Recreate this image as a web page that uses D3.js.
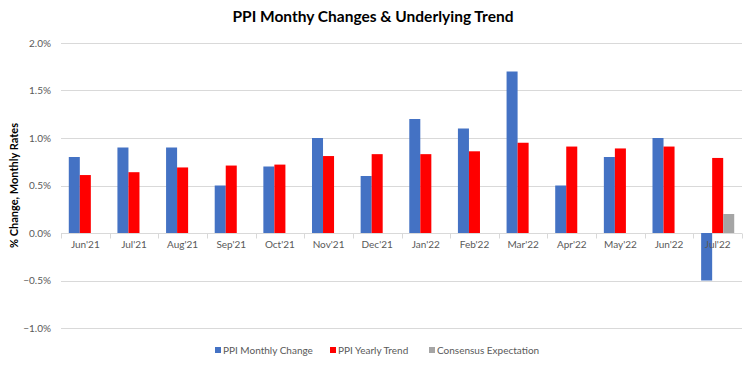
<!DOCTYPE html>
<html>
<head>
  <meta charset="utf-8">
  <script src="https://d3js.org/d3.v7.min.js"></script>
  <style>
    body { margin: 0; background: #fff; font-family: Lato, 'Open Sans', sans-serif; }
  </style>
</head>
<body>
  <div id="my_dataviz"></div>
  <script>
    // data
    var months = ["Jun'21", "Jul'21", "Aug'21", "Sep'21", "Oct'21", "Nov'21", "Dec'21",
                  "Jan'22", "Feb'22", "Mar'22", "Apr'22", "May'22", "Jun'22", "Jul'22"];
    var monthly = [0.8, 0.9, 0.9, 0.5, 0.7, 1.0, 0.6, 1.2, 1.1, 1.7, 0.5, 0.8, 1.0, -0.5];
    var yearly = [0.61, 0.64, 0.69, 0.71, 0.72, 0.81, 0.83, 0.83, 0.86, 0.95, 0.91, 0.89, 0.91, 0.79];
    var consensus = [null, null, null, null, null, null, null, null, null, null, null, null, null, 0.2];
    var seriesNames = ["PPI Monthly Change", "PPI Yearly Trend", "Consensus Expectation"];
    var colors = ["#4472C4", "#FF0000", "#A5A5A5"];
    var yTicks = [-1.0, -0.5, 0, 0.5, 1.0, 1.5, 2.0];

    var W = 750, H = 368;
    var margin = { top: 43, right: 8, bottom: 40, left: 61 },
      width = W - margin.left - margin.right,
      height = 328 - margin.top;

    var svg = d3.select("#my_dataviz")
      .append("svg")
      .attr("width", W)
      .attr("height", H);

    var g = svg.append("g")
      .attr("transform", "translate(" + margin.left + "," + margin.top + ")");

    var x = d3.scaleBand().domain(months).range([0, width]).padding(0);
    var y = d3.scaleLinear().domain([-1.0, 2.0]).range([height, 0]);

    // inner scale for grouped bars, group takes ~68% of each band
    var groupW = x.bandwidth() * 0.68;
    var x1 = d3.scaleBand().domain([0, 1, 2]).range([0, groupW]);

    // gridlines
    g.append("g")
      .selectAll("line")
      .data(yTicks)
      .enter()
      .append("line")
      .attr("x1", 0)
      .attr("x2", width)
      .attr("y1", function (d) { return Math.round(y(d)) + 0.5; })
      .attr("y2", function (d) { return Math.round(y(d)) + 0.5; })
      .attr("stroke", "#D9D9D9")
      .attr("stroke-width", 1);

    // y tick labels
    g.append("g")
      .selectAll("text")
      .data(yTicks)
      .enter()
      .append("text")
      .attr("x", -10)
      .attr("y", function (d) { return y(d); })
      .attr("dy", "0.35em")
      .attr("text-anchor", "end")
      .style("font-size", "10px")
      .style("fill", "#595959")
      .text(function (d) { return d3.format(".1f")(d) + "%"; });

    // x axis line at zero and tick marks
    var y0 = Math.round(y(0)) + 0.5;
    g.append("line")
      .attr("x1", 0).attr("x2", width)
      .attr("y1", y0).attr("y2", y0)
      .attr("stroke", "#D9D9D9");
    g.append("g")
      .selectAll("line")
      .data(months.concat(["end"]))
      .enter()
      .append("line")
      .attr("x1", function (d, i) { return Math.round(i * x.step()) + 0.5; })
      .attr("x2", function (d, i) { return Math.round(i * x.step()) + 0.5; })
      .attr("y1", y0)
      .attr("y2", y0 + 5)
      .attr("stroke", "#D9D9D9");

    // bars
    var allSeries = [monthly, yearly, consensus];
    allSeries.forEach(function (vals, si) {
      g.append("g")
        .selectAll("rect")
        .data(vals.map(function (v, i) { return { m: months[i], v: v }; })
          .filter(function (d) { return d.v !== null; }))
        .enter()
        .append("rect")
        .attr("x", function (d) {
          return x(d.m) + (x.bandwidth() - groupW) / 2 + x1(si);
        })
        .attr("width", x1.bandwidth())
        .attr("y", function (d) { return y(Math.max(0, d.v)); })
        .attr("height", function (d) { return Math.abs(y(d.v) - y(0)); })
        .attr("fill", colors[si]);
    });

    // month labels
    g.append("g")
      .selectAll("text")
      .data(months)
      .enter()
      .append("text")
      .attr("x", function (d) { return x(d) + x.bandwidth() / 2; })
      .attr("y", y0 + 14)
      .attr("text-anchor", "middle")
      .style("font-size", "10px")
      .style("fill", "#595959")
      .text(function (d) { return d; });

    // title
    svg.append("text")
      .attr("x", 373)
      .attr("y", 22)
      .attr("text-anchor", "middle")
      .style("font-size", "15.5px")
      .style("font-weight", "bold")
      .style("fill", "#000")
      .text("PPI Monthy Changes & Underlying Trend");

    // y axis title
    svg.append("text")
      .attr("transform", "translate(18," + (margin.top + y(0.5)) + ") rotate(-90)")
      .attr("text-anchor", "middle")
      .style("font-size", "11px")
      .style("font-weight", "bold")
      .style("fill", "#000")
      .text("% Change, Monthly Rates");

    // legend
    var legendX = [215, 330, 429];
    var legend = svg.append("g");
    seriesNames.forEach(function (name, i) {
      legend.append("rect")
        .attr("x", legendX[i])
        .attr("y", 347)
        .attr("width", 6)
        .attr("height", 6)
        .attr("fill", colors[i]);
      legend.append("text")
        .attr("x", legendX[i] + 8)
        .attr("y", 354)
        .style("font-size", "10px")
        .style("fill", "#595959")
        .text(name);
    });
  </script>
</body>
</html>
